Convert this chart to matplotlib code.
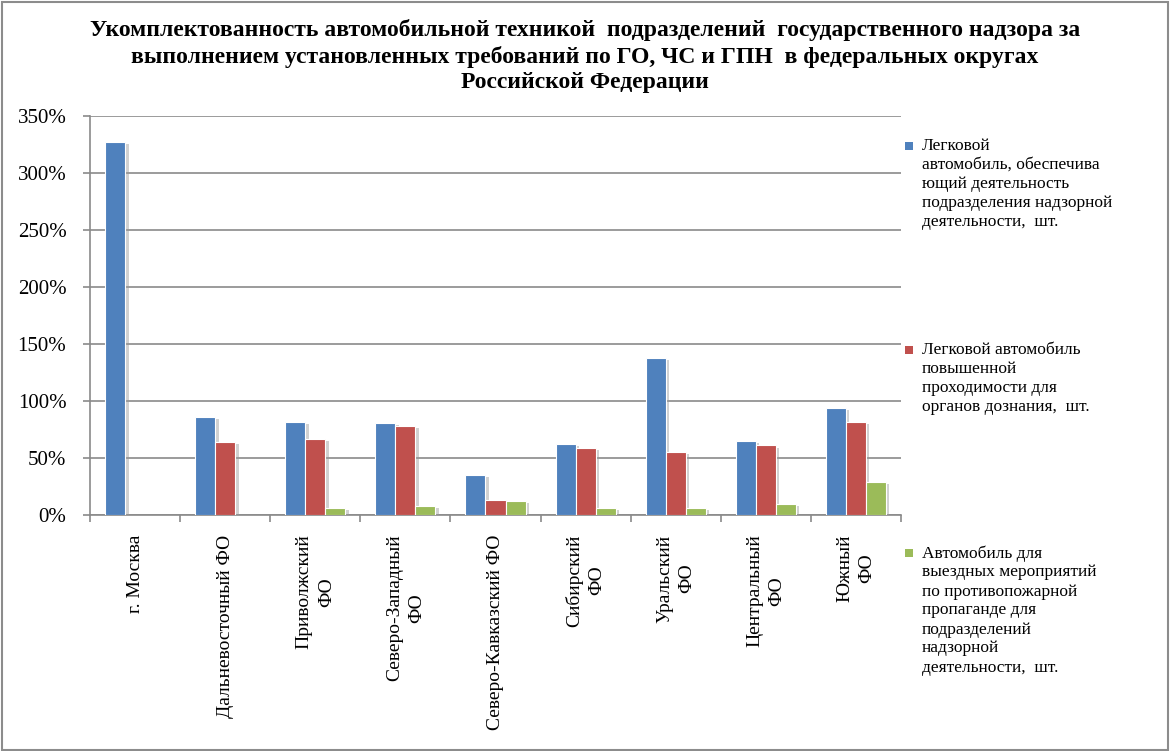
import matplotlib
matplotlib.use("Agg")
import matplotlib.pyplot as plt
import matplotlib.patheffects as pe
from matplotlib.patches import Rectangle
from matplotlib.ticker import FuncFormatter, MultipleLocator
import numpy as np

categories = ["г. Москва", "Дальневосточный ФО", "Приволжский\nФО", "Северо-Западный\nФО",
              "Северо-Кавказский ФО", "Сибирский\nФО", "Уральский\nФО", "Центральный\nФО", "Южный\nФО"]
series_names = [
    "Легковой\nавтомобиль, обеспечива\nющий деятельность\nподразделения надзорной\nдеятельности,  шт.",
    "Легковой автомобиль\nповышенной\nпроходимости для\nорганов дознания,  шт.",
    "Автомобиль для\nвыездных мероприятий\nпо противопожарной\nпропаганде для\nподразделений\nнадзорной\nдеятельности,  шт.",
]
passenger = [327, 86, 82, 81, 35, 62, 138, 65, 94]
offroad = [0, 64, 67, 78, 13, 59, 55, 61, 82]
propaganda = [0, 0, 6, 8, 12, 6, 6, 10, 29]
colors = ["#4F81BD", "#C0504D", "#9BBB59"]
title = ("Укомплектованность автомобильной техникой  подразделений  государственного надзора за\n"
         "выполнением установленных требований по ГО, ЧС и ГПН  в федеральных округах\n"
         "Российской Федерации")

plt.rcParams['font.family'] = ['Liberation Serif', 'DejaVu Serif']

W, H = 1170, 751
fig = plt.figure(figsize=(W / 100, H / 100), dpi=100)
fig.patches.append(Rectangle((2 / W, 1 / H), 1 - 4 / W, 1 - 3 / H, transform=fig.transFigure,
                             fill=False, edgecolor="#8c8c8c", linewidth=1.5))

ax = fig.add_axes([90 / W, (H - 515) / H, (901 - 90) / W, (515 - 116) / H])
x = np.arange(len(categories))
bw = 1 / 4.5
shadow = [pe.SimplePatchShadow(offset=(2.5, -1.5), shadow_rgbFace="#9a9a9a", alpha=0.45), pe.Normal()]
for i, (vals, c) in enumerate(zip([passenger, offroad, propaganda], colors)):
    bars = ax.bar(x + (i - 1) * bw, vals, width=bw, color=c, edgecolor="white", linewidth=0.8, zorder=3)
    for b in bars:
        if b.get_height() > 0:
            b.set_path_effects(shadow)
        else:
            b.set_visible(False)

ax.set_xlim(-0.5, len(categories) - 0.5)
ax.set_ylim(0, 350)
ax.yaxis.set_major_locator(MultipleLocator(50))
ax.yaxis.set_major_formatter(FuncFormatter(lambda v, p: f"{int(v)}%"))
ax.grid(axis="y", color="#8a8a8a", linewidth=1.2, zorder=0)
ax.set_axisbelow(True)
for s in ["top", "right"]:
    ax.spines[s].set_visible(False)
for s in ["left", "bottom"]:
    ax.spines[s].set_color("#8a8a8a")
    ax.spines[s].set_linewidth(1.2)
ax.tick_params(axis="y", length=5, width=1.2, color="#8a8a8a", pad=12, labelsize=15)
ax.set_xticks(np.arange(len(categories) + 1) - 0.5)
ax.set_xticklabels([])
ax.tick_params(axis="x", length=5, width=1.2, color="#8a8a8a")
for xi, lab in zip(x, categories):
    ax.text(xi, -17, lab, rotation=90, ha="center", va="top", multialignment="center",
            fontsize=14, linespacing=1.4, clip_on=False)

fig.text(585 / W, 1 - 19 / H, title, ha="center", va="top", fontsize=17, fontweight="bold",
         linespacing=1.27)

leg_y = [146, 350, 553]
for name, c, yy in zip(series_names, colors, leg_y):
    fig.patches.append(Rectangle((905 / W, 1 - (yy + 4) / H), 8 / W, 8 / H, transform=fig.transFigure,
                                 facecolor=c, edgecolor="none"))
    fig.text(922 / W, 1 - (yy - 8) / H, name, ha="left", va="top", fontsize=12.5, linespacing=1.25)

fig.savefig("out.png", dpi=100)
